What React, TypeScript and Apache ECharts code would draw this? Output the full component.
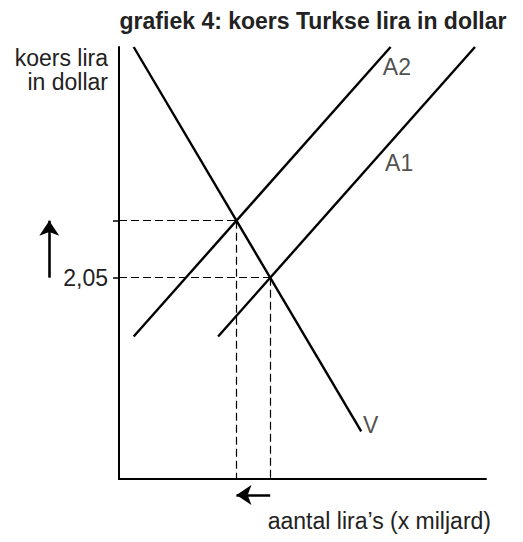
import React, { useEffect, useRef } from "react";
import * as echarts from "echarts";

// ---- data (abstract units: quantity 0..100, price 0..100) ----
const X_MAX = 100;
const Y_MAX = 100;
const V_CURVE: number[][] = [[4, 100], [66, 11]];
const A2_CURVE: number[][] = [[4, 33], [74, 100]];
const A1_CURVE: number[][] = [[27, 33], [97, 100]];
const E_NEW: number[] = [32.0, 59.8]; // A2 ∩ V
const E_OLD: number[] = [41.2, 46.6]; // A1 ∩ V (koers 2,05)
const PRICE_LABEL = "2,05";
const ARROW_UP_X = -19;
const ARROW_LEFT_Y = -3.7;
const CURVE_NAMES = ["A2", "A1", "V"];
const CURVE_LABEL_POS: number[][] = [[71.9, 95.4], [72.5, 73.1], [66.5, 12.5]];
const TITLE = "grafiek 4: koers Turkse lira in dollar";
const Y_NAME = "koers lira\nin dollar";
const X_NAME = "aantal lira’s (x miljard)";

const FONT = "'Liberation Sans', Arial, Helvetica, sans-serif";
const TEXT_COLOR = "#222";

export default function App() {
  const ref = useRef<HTMLDivElement>(null);
  useEffect(() => {
    if (!ref.current) return;
    const chart = echarts.init(ref.current, null, { renderer: "svg" });
    const curves = [V_CURVE, A2_CURVE, A1_CURVE].map((c) => ({ coords: c }));
    const guides = [
      { coords: [[0, E_NEW[1]], E_NEW] },
      { coords: [E_NEW, [E_NEW[0], 0]] },
      { coords: [[0, E_OLD[1]], E_OLD] },
      { coords: [E_OLD, [E_OLD[0], 0]] },
    ];
    const arrows = [
      { coords: [[ARROW_UP_X, E_OLD[1]], [ARROW_UP_X, E_NEW[1]]] },
      { coords: [[E_OLD[0], ARROW_LEFT_Y], [E_NEW[0], ARROW_LEFT_Y]] },
    ];
    chart.setOption({
      animation: false,
      backgroundColor: "#fff",
      grid: { left: 119, right: 37, top: 47, bottom: 63, containLabel: false },
      xAxis: {
        type: "value",
        min: 0,
        max: X_MAX,
        axisLine: { show: true, lineStyle: { color: "#000", width: 2 } },
        axisTick: { show: false },
        axisLabel: { show: false },
        splitLine: { show: false },
      },
      yAxis: {
        type: "value",
        min: 0,
        max: Y_MAX,
        axisLine: { show: true, lineStyle: { color: "#000", width: 2 } },
        axisTick: {
          show: true,
          customValues: [E_OLD[1], E_NEW[1]],
          length: 6,
          lineStyle: { color: "#000", width: 1.5 },
        },
        axisLabel: {
          show: true,
          customValues: [E_OLD[1]],
          formatter: () => PRICE_LABEL,
          fontSize: 23,
          fontFamily: FONT,
          color: TEXT_COLOR,
          margin: 11,
        },
        splitLine: { show: false },
      },
      series: [
        {
          type: "lines",
          coordinateSystem: "cartesian2d",
          clip: false,
          z: 2,
          lineStyle: { color: "#000", width: 1.2, type: [8, 4], opacity: 1, curveness: 0 },
          data: guides,
        },
        {
          type: "lines",
          coordinateSystem: "cartesian2d",
          clip: false,
          z: 3,
          lineStyle: { color: "#000", width: 2.4, opacity: 1, curveness: 0 },
          data: curves,
        },
        {
          type: "lines",
          coordinateSystem: "cartesian2d",
          clip: false,
          z: 3,
          symbol: ["none", "arrow"],
          symbolSize: 15,
          lineStyle: { color: "#000", width: 2.6, opacity: 1, curveness: 0 },
          data: arrows,
        },
        {
          type: "scatter",
          symbolSize: 0,
          z: 4,
          label: {
            show: true,
            position: "right",
            distance: 0,
            formatter: "{b}",
            fontSize: 23,
            fontFamily: FONT,
            color: TEXT_COLOR,
          },
          data: CURVE_NAMES.map((n, i) => ({ name: n, value: CURVE_LABEL_POS[i] })),
        },
      ],
      graphic: [
        {
          type: "text",
          x: 313,
          y: 21,
          style: {
            text: TITLE,
            font: `bold 23px ${FONT}`,
            fill: TEXT_COLOR,
            textAlign: "center",
            textVerticalAlign: "middle",
          },
        },
        {
          type: "text",
          x: 108,
          y: 70,
          style: {
            text: Y_NAME,
            font: `23px ${FONT}`,
            lineHeight: 24,
            fill: TEXT_COLOR,
            textAlign: "right",
            textVerticalAlign: "middle",
          },
        },
        {
          type: "text",
          x: 491,
          y: 521,
          style: {
            text: X_NAME,
            font: `23px ${FONT}`,
            fill: TEXT_COLOR,
            textAlign: "right",
            textVerticalAlign: "middle",
          },
        },
      ],
    });
    return () => chart.dispose();
  }, []);
  return (
    <div
      ref={ref}
      style={{ position: "fixed", left: 0, top: 0, width: 523, height: 542 }}
    />
  );
}
